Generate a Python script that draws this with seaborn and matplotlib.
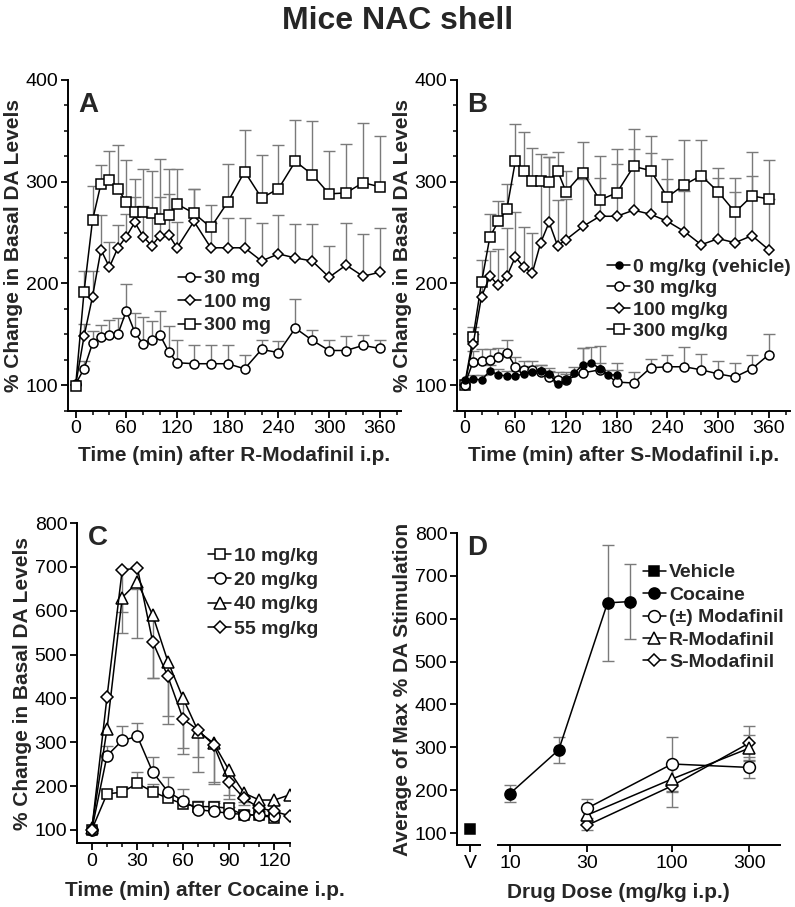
import numpy as np
import matplotlib
matplotlib.use("Agg")
import matplotlib.pyplot as plt
import seaborn as sns
from matplotlib.ticker import MultipleLocator, NullLocator, FixedLocator
from matplotlib.lines import Line2D

# ---------------- data ----------------
# Panel A : R-Modafinil
tA = [0, 10, 20, 30, 40, 50, 60, 70, 80, 90, 100, 110, 120, 140, 160, 180, 200, 220, 240, 260, 280, 300, 320, 340, 360]
a30 = [101, 116, 141, 147, 149, 150, 173, 152, 140, 144, 149, 133, 122, 121, 121, 121, 116, 135, 132, 156, 144, 134, 134, 139, 136]
a30_err = [0, 8, 12, 12, 15, 16, 26, 19, 27, 19, 24, 25, 22, 18, 18, 18, 14, 9, 11, 29, 10, 10, 14, 10, 8]
a100 = [100, 148, 187, 233, 216, 235, 246, 260, 246, 237, 247, 248, 235, 261, 235, 235, 235, 222, 229, 225, 222, 206, 218, 207, 211]
a100_err = [0, 12, 25, 34, 25, 22, 22, 25, 30, 28, 38, 40, 25, 32, 24, 29, 29, 37, 38, 33, 36, 31, 41, 42, 43]
a300 = [99, 192, 262, 298, 302, 293, 280, 270, 270, 269, 263, 267, 278, 269, 255, 280, 310, 284, 293, 320, 307, 288, 289, 299, 295]
a300_err = [0, 20, 34, 18, 28, 43, 41, 33, 42, 42, 59, 45, 34, 24, 22, 37, 41, 42, 43, 41, 53, 42, 48, 59, 50]

# Panel B : S-Modafinil
tB = tA
tVeh = [0, 10, 20, 30, 40, 50, 60, 70, 80, 90, 100, 110, 120, 130, 140, 150, 160, 170, 180]
bveh = [105, 106, 105, 114, 110, 109, 109, 111, 113, 114, 111, 101, 105, 112, 120, 122, 116, 110, 110]
bveh_err = [0, 4, 5, 6, 6, 5, 5, 5, 6, 6, 6, 6, 6, 6, 16, 15, 6, 5, 5]
b30 = [100, 123, 124, 125, 128, 132, 118, 115, 115, 113, 108, 105, 105, 112, 115, 103, 102, 117, 118, 118, 115, 111, 108, 116, 130]
b30_err = [0, 11, 11, 10, 8, 12, 10, 9, 9, 7, 6, 8, 8, 24, 23, 19, 11, 9, 12, 19, 16, 13, 14, 14, 20]
b100 = [100, 140, 187, 207, 198, 207, 226, 216, 210, 240, 260, 237, 243, 256, 266, 266, 272, 268, 261, 251, 238, 244, 240, 247, 233]
b100_err = [0, 10, 15, 25, 36, 47, 44, 39, 40, 61, 64, 45, 40, 47, 38, 66, 60, 60, 42, 40, 65, 60, 50, 59, 50]
b300 = [100, 147, 201, 246, 261, 273, 320, 311, 301, 301, 300, 311, 290, 309, 282, 289, 315, 311, 285, 297, 306, 290, 270, 286, 283]
b300_err = [0, 10, 22, 22, 20, 25, 37, 38, 32, 26, 24, 18, 21, 30, 43, 28, 37, 34, 37, 44, 35, 23, 34, 43, 38]

# Panel C : Cocaine
tC = [0, 10, 20, 30, 40, 50, 60, 70, 80, 90, 100, 110, 120, 130]
c10 = [100, 182, 186, 206, 187, 172, 159, 153, 153, 149, 134, 134, 127]
c10_err = [0, 8, 12, 25, 18, 15, 14, 12, 12, 12, 8, 8, 8]
c20 = [100, 269, 304, 313, 232, 187, 166, 146, 142, 138, 135, 133, 132]
c20_err = [0, 23, 33, 30, 34, 33, 27, 20, 20, 15, 10, 10, 8]
c40 = [105, 330, 630, 665, 590, 484, 400, 324, 298, 237, 184, 168, 168, 180]
c40_dn = [0, 0, 33, 16, 143, 124, 114, 92, 89, 57, 20, 10, 10, 0]
c55 = [100, 403, 693, 697, 529, 450, 353, 327, 294, 210, 172, 150, 142, 132]
c55_dn = [0, 0, 144, 160, 82, 109, 80, 61, 89, 40, 15, 10, 10, 0]

# Panel D : dose response
v_dose = [5.66]
v_val = [110]
coc_dose = [10, 20, 40, 55]
coc_val = [192, 294, 637, 640]
coc_err = [20, 30, 136, 88]
mod_dose = [30, 100, 300]
rac_val = [158, 261, 253]
rac_err = [22, 62, 25]
r_val = [142, 226, 298]
r_err = [15, 30, 30]
s_val = [118, 210, 310]
s_err = [10, 49, 40]

# ---------------- style ----------------
sns.set_style("ticks")
plt.rcParams["font.family"] = ["Liberation Sans", "DejaVu Sans"]
plt.rcParams["axes.linewidth"] = 1.4
plt.rcParams["xtick.major.width"] = 1.3
plt.rcParams["ytick.major.width"] = 1.3
plt.rcParams["xtick.minor.width"] = 1.1
plt.rcParams["ytick.minor.width"] = 1.1
plt.rcParams["xtick.major.size"] = 5
plt.rcParams["ytick.major.size"] = 5
plt.rcParams["xtick.minor.size"] = 3
plt.rcParams["ytick.minor.size"] = 3
plt.rcParams["xtick.color"] = "black"
plt.rcParams["ytick.color"] = "black"
plt.rcParams["axes.edgecolor"] = "black"

GRAY = "#7a7a7a"
TICK_FS = 14
LAB_FS = 15
LEG_FS = 14

W, H = 795, 907
fig = plt.figure(figsize=(W / 100, H / 100), dpi=100)


def rect(l, r, t, b):
    return [l / W, 1 - b / H, (r - l) / W, (b - t) / H]


def errbars(ax, x, y, up=None, dn=None, cw=8):
    n = len(y)
    x = np.asarray(x[:n], float)
    y = np.asarray(y, float)
    upv = np.asarray(up, float) if up is not None else np.zeros_like(y)
    dnv = np.asarray(dn, float) if dn is not None else np.zeros_like(y)
    m = (upv > 0) | (dnv > 0)
    ax.vlines(x[m], (y - dnv)[m], (y + upv)[m], colors=GRAY, lw=1.0, zorder=1)
    if up is not None:
        mu = upv > 0
        ax.plot(x[mu], (y + upv)[mu], ls="none", marker="_", ms=cw, mew=1.0, color=GRAY, zorder=1)
    if dn is not None:
        md = dnv > 0
        ax.plot(x[md], (y - dnv)[md], ls="none", marker="_", ms=cw, mew=1.0, color=GRAY, zorder=1)


def series(ax, x, y, marker, ms, mfc="white"):
    n = min(len(x), len(y))
    sns.lineplot(x=list(x[:n]), y=list(y[:n]), ax=ax, color="black", lw=1.1,
                 marker=marker, markersize=ms, markerfacecolor=mfc, mec="black",
                 mew=1.1, zorder=3, sort=False, estimator=None)


def handle(marker, ms, mfc="white"):
    return Line2D([0], [0], color="black", lw=1.1, marker=marker, markersize=ms,
                  markerfacecolor=mfc, markeredgecolor="black", markeredgewidth=1.1)


def finish(ax, letter, lx, ly):
    sns.despine(ax=ax)
    ax.tick_params(labelsize=TICK_FS, which="both", direction="out", pad=2)
    ax.text(lx, ly, letter, transform=ax.transAxes, fontsize=20, fontweight="bold",
            ha="left", va="top")


def legend(ax, handles, labels, x, y, spacing):
    lg = ax.legend(handles, labels, loc="center left", bbox_to_anchor=(x, y),
                   frameon=False, fontsize=LEG_FS, handlelength=1.2, handletextpad=0.15,
                   labelspacing=spacing, borderpad=0, borderaxespad=0)
    for t in lg.get_texts():
        t.set_fontweight("bold")


# ---------------- Panel A ----------------
axA = fig.add_axes(rect(68, 401, 80, 410.5))
errbars(axA, tA, a30, up=a30_err)
errbars(axA, tA, a100, up=a100_err)
errbars(axA, tA, a300, up=a300_err)
series(axA, tA, a30, "o", 6.5)
series(axA, tA, a100, "D", 5.5)
series(axA, tA, a300, "s", 6.5)
axA.set_xlim(-9, 385)
axA.set_ylim(75, 400)
axA.xaxis.set_major_locator(FixedLocator([0, 60, 120, 180, 240, 300, 360]))
axA.xaxis.set_minor_locator(MultipleLocator(20))
axA.yaxis.set_major_locator(FixedLocator([100, 200, 300, 400]))
axA.yaxis.set_minor_locator(MultipleLocator(25))
axA.set_xlabel("Time (min) after R-Modafinil i.p.", fontsize=LAB_FS, fontweight="bold", labelpad=6)
axA.set_ylabel("% Change in Basal DA Levels", fontsize=LAB_FS, fontweight="bold", labelpad=2)
finish(axA, "A", 0.03, 0.965)
legend(axA, [handle("o", 6.5), handle("D", 5.5), handle("s", 6.5)],
       ["30 mg", "100 mg", "300 mg"], 0.33, 0.328, 0.3)

# ---------------- Panel B ----------------
axB = fig.add_axes(rect(457, 790, 80, 410.5))
errbars(axB, tVeh, bveh, up=bveh_err)
errbars(axB, tB, b30, up=b30_err)
errbars(axB, tB, b100, up=b100_err)
errbars(axB, tB, b300, up=b300_err)
series(axB, tB, b300, "s", 6.5)
series(axB, tB, b100, "D", 5.5)
series(axB, tB, b30, "o", 6.5)
series(axB, tVeh, bveh, "o", 5, mfc="black")
axB.set_xlim(-9, 385)
axB.set_ylim(75, 400)
axB.xaxis.set_major_locator(FixedLocator([0, 60, 120, 180, 240, 300, 360]))
axB.xaxis.set_minor_locator(MultipleLocator(20))
axB.yaxis.set_major_locator(FixedLocator([100, 200, 300, 400]))
axB.yaxis.set_minor_locator(MultipleLocator(25))
axB.set_xlabel("Time (min) after S-Modafinil i.p.", fontsize=LAB_FS, fontweight="bold", labelpad=6)
axB.set_ylabel("% Change in Basal DA Levels", fontsize=LAB_FS, fontweight="bold", labelpad=2)
finish(axB, "B", 0.03, 0.965)
legend(axB, [handle("o", 5, "black"), handle("o", 6.5), handle("D", 5.5), handle("s", 6.5)],
       ["0 mg/kg (vehicle)", "30 mg/kg", "100 mg/kg", "300 mg/kg"], 0.45, 0.337, 0.2)

# ---------------- Panel C ----------------
axC = fig.add_axes(rect(77, 290, 523, 843))
errbars(axC, tC, c10, up=c10_err)
errbars(axC, tC, c20, up=c20_err)
errbars(axC, tC, c40, dn=c40_dn)
errbars(axC, tC, c55, dn=c55_dn)
series(axC, tC, c10, "s", 7.5)
series(axC, tC, c20, "o", 8)
series(axC, tC, c40, "^", 8)
series(axC, tC, c55, "D", 6)
axC.set_xlim(-9.7, 130.2)
axC.set_ylim(70, 800)
axC.xaxis.set_major_locator(FixedLocator([0, 30, 60, 90, 120]))
axC.xaxis.set_minor_locator(MultipleLocator(10))
axC.yaxis.set_major_locator(FixedLocator([100, 200, 300, 400, 500, 600, 700, 800]))
axC.yaxis.set_minor_locator(NullLocator())
axC.set_xlabel("Time (min) after Cocaine i.p.", fontsize=LAB_FS, fontweight="bold", labelpad=2)
axC.xaxis.set_label_coords(0.6, -0.118)
axC.set_ylabel("% Change in Basal DA Levels", fontsize=LAB_FS, fontweight="bold", labelpad=2)
finish(axC, "C", 0.052, 0.995)
legend(axC, [handle("s", 7.5), handle("o", 8), handle("^", 8), handle("D", 6)],
       ["10 mg/kg", "20 mg/kg", "40 mg/kg", "55 mg/kg"], 0.615, 0.783, 0.35)

# ---------------- Panel D ----------------
axD = fig.add_axes(rect(457, 780, 533, 845))
axD.set_xscale("log")
errbars(axD, coc_dose, coc_val, up=coc_err, dn=coc_err)
errbars(axD, mod_dose, rac_val, up=rac_err, dn=rac_err)
errbars(axD, mod_dose, r_val, up=r_err, dn=r_err)
errbars(axD, mod_dose, s_val, up=s_err, dn=s_err)
series(axD, coc_dose, coc_val, "o", 8, mfc="black")
series(axD, mod_dose, s_val, "D", 6.5)
series(axD, mod_dose, r_val, "^", 8.5)
series(axD, mod_dose, rac_val, "o", 8.5)
series(axD, v_dose, v_val, "s", 7, mfc="black")
axD.set_xlim(4.71, 464)
axD.set_ylim(72, 800)
axD.xaxis.set_major_locator(FixedLocator([5.66, 10, 30, 100, 300]))
axD.xaxis.set_minor_locator(NullLocator())
axD.set_xticklabels(["V", "10", "30", "100", "300"])
axD.yaxis.set_major_locator(FixedLocator([100, 200, 300, 400, 500, 600, 700, 800]))
axD.yaxis.set_minor_locator(NullLocator())
axD.set_xlabel("Drug Dose (mg/kg i.p.)", fontsize=LAB_FS, fontweight="bold", labelpad=8)
axD.set_ylabel("Average of Max % DA Stimulation", fontsize=LAB_FS, fontweight="bold", labelpad=2)
finish(axD, "D", 0.03, 0.995)
axD.spines["bottom"].set_bounds(8.4, 464)
axD.plot([4.71, 6.6], [0, 0], transform=axD.get_xaxis_transform(), color="black",
         lw=1.4, clip_on=False, solid_capstyle="butt")
legend(axD, [handle("s", 7, "black"), handle("o", 8, "black"), handle("o", 8.5),
             handle("^", 8.5), handle("D", 6.5)],
       ["Vehicle", "Cocaine", "(±) Modafinil", "R-Modafinil", "S-Modafinil"], 0.575, 0.729, 0.25)

fig.text(0.5, 1 - 21 / H, "Mice NAC shell", ha="center", va="center", fontsize=23, fontweight="bold")

fig.savefig("out.png", dpi=100)
